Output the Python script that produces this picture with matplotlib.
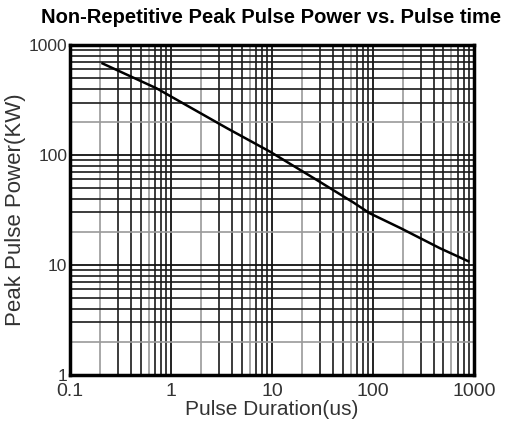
import matplotlib
matplotlib.use('Agg')
import matplotlib.pyplot as plt
import matplotlib.ticker as mticker
import numpy as np

# curve
pulse_us = [0.21, 0.72, 3.6, 9.6, 28, 64, 93, 190, 460, 880]
power_kw = [680, 404, 175, 107, 59, 37, 29.5, 21.5, 14.2, 10.8]

x_ticks = [0.1, 1, 10, 100, 1000]
x_labels = ['0.1', '1', '10', '100', '1000']
y_ticks = [1, 10, 100, 1000]
y_labels = ['1', '10', '100', '1000']

plt.rcParams['font.family'] = ['Liberation Sans', 'DejaVu Sans']

fig = plt.figure(figsize=(5.09, 4.25), dpi=100)
ax = fig.add_axes([0.1375, 0.118, 0.7935, 0.776])

ax.plot(pulse_us, power_kw, color='black', lw=1.8, zorder=5)

ax.set_xscale('log')
ax.set_yscale('log')
ax.set_xlim(0.1, 1000)
ax.set_ylim(1, 1000)

ax.set_xticks(x_ticks)
ax.set_xticklabels(x_labels)
ax.set_yticks(y_ticks)
ax.set_yticklabels(y_labels)
ax.xaxis.set_minor_locator(mticker.LogLocator(base=10, subs=np.arange(2, 10)))
ax.yaxis.set_minor_locator(mticker.LogLocator(base=10, subs=np.arange(2, 10)))
ax.xaxis.set_minor_formatter(mticker.NullFormatter())
ax.yaxis.set_minor_formatter(mticker.NullFormatter())

ax.grid(True, which='major', color='#111111', lw=1.3)
ax.grid(True, which='minor', color='#1a1a1a', lw=1.2)
ax.tick_params(which='both', length=0, labelcolor='#333333')
ax.tick_params(axis='x', pad=6, labelsize=14)
ax.tick_params(axis='y', pad=2, labelsize=12.5)

fig.canvas.draw()
for tk in ax.xaxis.get_minor_ticks() + ax.yaxis.get_minor_ticks():
    v = tk.get_loc()
    m = v / 10 ** np.floor(np.log10(v) + 1e-9)
    if abs(m - 2) < 0.01:
        tk.gridline.set_color('#9a9a9a')
for tk in ax.xaxis.get_minor_ticks():
    v = tk.get_loc()
    m = v / 10 ** np.floor(np.log10(v) + 1e-9)
    if abs(m - 6) < 0.01:
        tk.gridline.set_color('#9a9a9a')

for s in ax.spines.values():
    s.set_linewidth(2.5)
    s.set_zorder(6)

ax.set_xlabel('Pulse Duration(us)', fontsize=15, color='#333333', labelpad=0)
ax.set_ylabel('Peak Pulse Power(KW)', fontsize=16, color='#333333', labelpad=2)
fig.text(0.532, 0.958, 'Non-Repetitive Peak Pulse Power vs. Pulse time',
         ha='center', va='center', fontsize=14.5, fontweight='bold')

plt.savefig('out.png', dpi=100)
